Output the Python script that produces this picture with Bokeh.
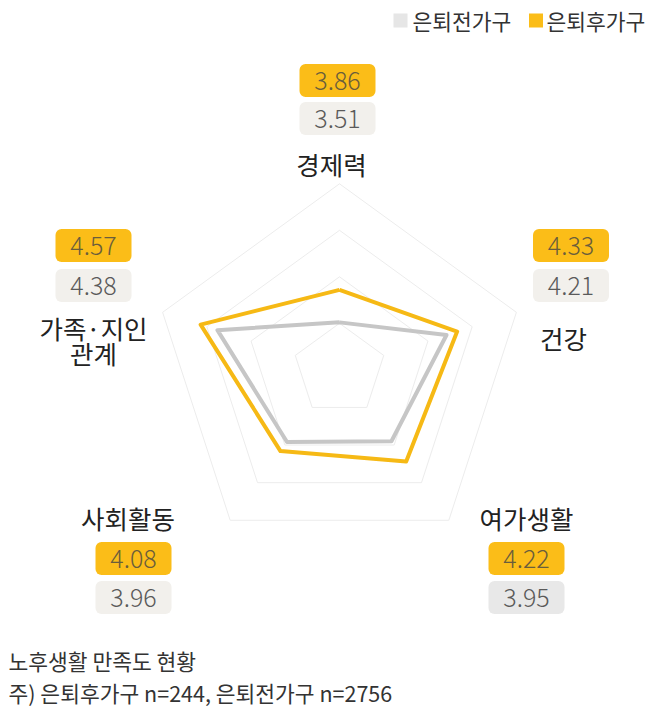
import numpy as np
from bokeh.plotting import figure
from bokeh.models import Range1d
from bokeh.core.properties import value
from bokeh.embed import file_html
from bokeh.resources import INLINE

# ---------------- data ----------------
categories = ["경제력", "건강", "여가생활", "사회활동", "가족·지인\n관계"]
before_retire = [3.51, 4.21, 3.95, 3.96, 4.38]   # 은퇴전가구
after_retire = [3.86, 4.33, 4.22, 4.08, 4.57]    # 은퇴후가구
series_names = ["은퇴전가구", "은퇴후가구"]
grid_levels = [3.5, 4.0, 4.5, 5.0]
scale_min = 3.0
title_note = "노후생활 만족도 현황"
sample_note = "주) 은퇴후가구 n=244, 은퇴전가구 n=2756"

# ---------------- style / layout ----------------
FONT = value("Noto Sans CJK KR")
FONT_LIGHT = value("Noto Sans CJK KR Light, Noto Sans CJK KR")
YELLOW = "#fbbd18"
YELLOW_LINE = "#f6b915"
GRAY_LINE = "#c6c6c6"
GRAY_BOX = ["#f2f0ec", "#f2f0ec", "#e8e8e8", "#f2f0ec", "#f2f0ec"]
CX, CY = 339.0, 369.3
K = 93.0  # pixels per unit

label_pos = [(331, 163), (563, 337), (526, 517), (127.5, 517), (93, 339.5)]
box_pos = [(337, 80, 118), (570.5, 245, 285), (526, 558, 597), (133, 558, 597), (93, 245, 285)]

W, H = 655, 709
p = figure(width=W, height=H, output_backend="svg", toolbar_location=None,
           x_range=Range1d(0, W), y_range=Range1d(H, 0),
           min_border=0)
p.axis.visible = False
p.grid.visible = False
p.outline_line_color = None
p.background_fill_color = "white"
p.border_fill_color = "white"

n = len(categories)
ang = np.deg2rad(np.arange(n) * 360.0 / n)


def poly(vals):
    r = (np.asarray(vals, dtype=float) - scale_min) * K
    xs = CX + r * np.sin(ang)
    ys = CY - r * np.cos(ang)
    return list(xs) + [xs[0]], list(ys) + [ys[0]]


# grid pentagons
for lv in grid_levels:
    gx, gy = poly([lv] * n)
    p.line(gx, gy, line_color="#ececec", line_width=1)

# series
bx, by = poly(before_retire)
p.line(bx, by, line_color=GRAY_LINE, line_width=4, line_join="round")
ax_, ay_ = poly(after_retire)
p.line(ax_, ay_, line_color=YELLOW_LINE, line_width=4, line_join="round")

# category labels
lx, ly, lt = [], [], []
for i, cat in enumerate(categories):
    lines = cat.split("\n")
    m = len(lines)
    for j, ln in enumerate(lines):
        lx.append(label_pos[i][0])
        ly.append(label_pos[i][1] + (j - (m - 1) / 2) * 25)
        lt.append(ln)
p.text(x=lx, y=ly, text=lt, text_font=FONT, text_font_size="25.5px",
       text_color="#222222", text_align="center", text_baseline="middle")

# value boxes
bxs = [b[0] for b in box_pos]
yy = [b[1] for b in box_pos]
gy_ = [b[2] for b in box_pos]
p.rect(x=bxs, y=yy, width=76, height=33, width_units="screen", height_units="screen",
       fill_color=YELLOW, line_color=None, border_radius=6)
p.rect(x=bxs, y=gy_, width=76, height=33, width_units="screen", height_units="screen",
       fill_color=GRAY_BOX, line_color=None, border_radius=6)
p.text(x=bxs, y=yy, text=[f"{v:.2f}" for v in after_retire], text_font=FONT_LIGHT,
       text_font_size="25px", text_color="#6a5d3c", text_align="center", text_baseline="middle")
p.text(x=bxs, y=gy_, text=[f"{v:.2f}" for v in before_retire], text_font=FONT_LIGHT,
       text_font_size="25px", text_color="#5a5a5a", text_align="center", text_baseline="middle")

# legend
p.rect(x=[400, 535.5], y=[20, 20], width=14, height=14, width_units="screen", height_units="screen",
       fill_color=["#e6e6e6", YELLOW], line_color=None)
p.text(x=[412, 546], y=[20, 20], text=series_names, text_font=FONT, text_font_size="21.5px",
       text_color="#333333", text_align="left", text_baseline="middle")

# notes
p.text(x=[8, 8], y=[660, 692], text=[title_note, sample_note], text_font=FONT,
       text_font_size="21.5px", text_color="#333333", text_align="left", text_baseline="middle")

open("out.html", "w").write(file_html(p, INLINE))
